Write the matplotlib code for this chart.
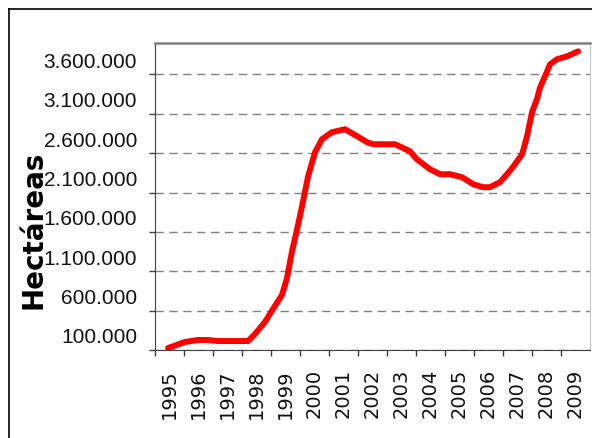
import matplotlib.pyplot as plt
import matplotlib.transforms as mtransforms
from matplotlib.lines import Line2D
from matplotlib.ticker import FixedLocator

# años (categorías del eje x)
anios = [1995, 1996, 1997, 1998, 1999, 2000, 2001, 2002, 2003, 2004,
         2005, 2006, 2007, 2008, 2009]

# serie (posición en años, hectáreas)
periodo = [1994.95, 1995.53, 1995.98, 1996.33, 1996.67, 1997.26, 1997.71, 1997.95,
           1998.29, 1998.57, 1998.88, 1999.05, 1999.22, 1999.40, 1999.60, 1999.78,
           2000.02, 2000.26, 2000.60, 2001.05, 2001.47, 2001.81, 2002.02, 2002.78,
           2003.29, 2003.53, 2003.98, 2004.33, 2004.67, 2005.09, 2005.47, 2005.81,
           2006.05, 2006.40, 2006.67, 2006.84, 2007.16, 2007.33, 2007.50, 2007.67,
           2007.78, 2007.95, 2008.12, 2008.36, 2008.71, 2009.09]
hectareas = [125000, 201500, 227000, 227000, 214000, 214000, 214000, 303000,
             455000, 620000, 800000, 1010000, 1344000, 1635000, 1978000, 2308000,
             2613000, 2778000, 2866000, 2905000, 2816000, 2740000, 2714000, 2714000,
             2625000, 2524000, 2397000, 2333000, 2333000, 2295000, 2207000, 2168000,
             2168000, 2232000, 2346000, 2422000, 2587000, 2816000, 3120000, 3285000,
             3437000, 3577000, 3729000, 3793000, 3831000, 3894000]

yticks = [100000, 600000, 1100000, 1600000, 2100000, 2600000, 3100000, 3600000]
ytick_labels = ['100.000', '600.000', '1.100.000', '1.600.000', '2.100.000',
                '2.600.000', '3.100.000', '3.600.000']

W, H = 592, 439
fig = plt.figure(figsize=(W / 100, H / 100), dpi=100)
ax = fig.add_axes([155 / W, 1 - 351 / H, 435 / W, 307 / H])

ax.plot(periodo, hectareas, color='#ff0000', lw=4.3, solid_capstyle='round',
        solid_joinstyle='round', zorder=3)

ax.set_xlim(1994.5, 2009.5)
ax.set_ylim(100000, 4000000)

# etiquetas del eje y: en el original quedan algo por encima de cada línea
ax.set_yticks(yticks)
ax.set_yticklabels([])
ax.tick_params(axis='y', direction='out', length=4, width=1, color='#404040')
trans = mtransforms.blended_transform_factory(ax.transAxes, ax.transData)
trans = trans + mtransforms.ScaledTranslation(0, 0.13, fig.dpi_scale_trans)
for v, lab in zip(yticks, ytick_labels):
    ax.text(-0.041, v, lab, transform=trans, ha='right', va='center',
            fontsize=15, fontfamily='Liberation Sans', color='#111111')

ax.set_xticks(anios)
ax.set_xticklabels([str(a) for a in anios], rotation=90, fontsize=14,
                   fontfamily='DejaVu Sans', color='#111111')
ax.tick_params(axis='x', which='major', length=0, pad=13)
ax.xaxis.set_minor_locator(FixedLocator([a - 0.5 for a in anios]))
ax.tick_params(axis='x', which='minor', direction='out', length=4, width=1, color='#404040')

ax.yaxis.grid(True, linestyle=(0, (6, 4)), color='#808080', lw=1)
ax.set_axisbelow(True)

ax.spines['left'].set_color('#404040')
ax.spines['bottom'].set_color('#404040')
ax.spines['top'].set_color('#808080')
ax.spines['top'].set_linewidth(1.8)
ax.spines['right'].set_color('#c8c8c8')

fig.text(34 / W, 1 - 230 / H, 'Hectáreas', rotation=90, ha='center', va='center',
         fontsize=20, fontweight='bold', fontfamily='DejaVu Sans')

# marco exterior (solo se ven los bordes izquierdo y superior)
fig.add_artist(Line2D([9 / W, 9 / W], [0, 1 - 10 / H], color='black', lw=1.2))
fig.add_artist(Line2D([9 / W, 1], [1 - 10 / H, 1 - 10 / H], color='black', lw=1.2))

fig.savefig('out.png', dpi=100)
